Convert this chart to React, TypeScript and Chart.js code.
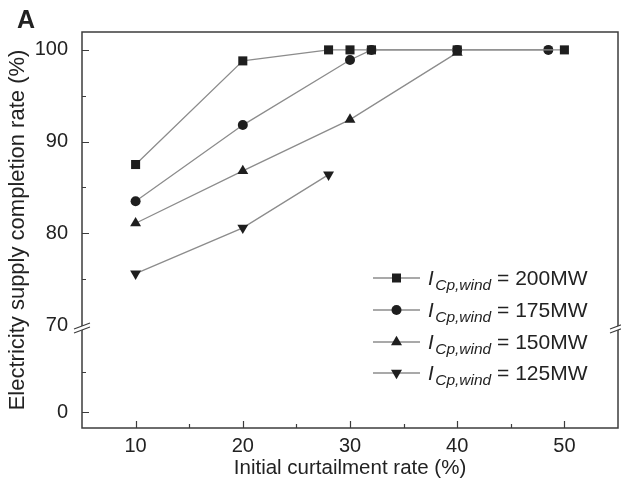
import React, { useEffect, useRef } from 'react';
import { Chart, registerables } from 'chart.js';

Chart.register(...registerables);

// ---- data ----
const xTickValues = [10, 20, 30, 40, 50];
const xMinorTicks = [15, 25, 35, 45];
const yTickReal = [0, 70, 80, 90, 100];
const yTickLabels = ['0', '70', '80', '90', '100'];
const yMinorReal = [5, 75, 85, 95];

const x200 = [10, 20, 28, 30, 32, 40, 50];
const y200 = [87.5, 98.8, 100, 100, 100, 100, 100];
const x175 = [10, 20, 30, 32, 40, 48.5];
const y175 = [83.5, 91.8, 98.9, 100, 100, 100];
const x150 = [10, 20, 30, 40];
const y150 = [81.1, 86.8, 92.4, 99.7];
const x125 = [10, 20, 28];
const y125 = [75.6, 80.6, 86.4];
const seriesLabels = ['200MW', '175MW', '150MW', '125MW'];

// broken y axis: lower segment (0..10) shown compressed below the break at 70
const BREAK_LOW = 10;
const BREAK_HIGH = 70;
const LOWER_BASE = 60.5;
const LOWER_SCALE = 0.8725;
const toAxis = (v: number) => (v >= BREAK_HIGH ? v : LOWER_BASE + v * LOWER_SCALE);

const FONT = '"Liberation Sans", Arial, Helvetica, sans-serif';
const LINE = '#8c8c8c';
const MARK = '#1e1e1e';
const AXIS = '#3c3c3c';
const TEXT = '#222222';

const pointStyles = ['rect', 'circle', 'triangle', 'triangle'];
const pointRotations = [0, 0, 0, 180];
const pointRadii = [6.4, 5, 6.3, 6.3];

const mk = (xs: number[], ys: number[]) => xs.map((x, i) => ({ x, y: toAxis(ys[i]) }));

function drawMarker(ctx: CanvasRenderingContext2D, style: number, cx: number, cy: number) {
  ctx.fillStyle = MARK;
  ctx.beginPath();
  if (style === 0) {
    ctx.rect(cx - 4.5, cy - 4.5, 9, 9);
  } else if (style === 1) {
    ctx.arc(cx, cy, 5, 0, Math.PI * 2);
  } else if (style === 2) {
    ctx.moveTo(cx, cy - 6.3);
    ctx.lineTo(cx + 5.5, cy + 3.2);
    ctx.lineTo(cx - 5.5, cy + 3.2);
    ctx.closePath();
  } else {
    ctx.moveTo(cx, cy + 6.3);
    ctx.lineTo(cx + 5.5, cy - 3.2);
    ctx.lineTo(cx - 5.5, cy - 3.2);
    ctx.closePath();
  }
  ctx.fill();
}

const decorPlugin = {
  id: 'decor',
  afterDraw(chart: any) {
    const { ctx, chartArea, scales } = chart;
    const { left, right, top, bottom } = chartArea;
    const xs = scales.x;
    const ys = scales.y;
    ctx.save();

    // frame
    ctx.strokeStyle = AXIS;
    ctx.lineWidth = 1.5;
    ctx.strokeRect(left, top, right - left, bottom - top);

    // x ticks (inward)
    ctx.lineWidth = 1.2;
    ctx.beginPath();
    xTickValues.forEach((v) => {
      const px = Math.round(xs.getPixelForValue(v)) + 0.5;
      ctx.moveTo(px, bottom);
      ctx.lineTo(px, bottom - 7);
    });
    xMinorTicks.forEach((v) => {
      const px = Math.round(xs.getPixelForValue(v)) + 0.5;
      ctx.moveTo(px, bottom);
      ctx.lineTo(px, bottom - 4);
    });
    // y ticks (inward)
    yTickReal.forEach((v) => {
      const py = Math.round(ys.getPixelForValue(toAxis(v))) + 0.5;
      ctx.moveTo(left, py);
      ctx.lineTo(left + 7, py);
    });
    yMinorReal.forEach((v) => {
      const py = Math.round(ys.getPixelForValue(toAxis(v))) + 0.5;
      ctx.moveTo(left, py);
      ctx.lineTo(left + 4, py);
    });
    ctx.stroke();

    // axis breaks
    const by = ys.getPixelForValue((toAxis(BREAK_LOW) + BREAK_HIGH) / 2);
    [left, right].forEach((ax) => {
      ctx.fillStyle = '#ffffff';
      ctx.beginPath();
      ctx.moveTo(ax - 8, by + 4.5);
      ctx.lineTo(ax + 8, by - 1.5);
      ctx.lineTo(ax + 8, by - 5.5);
      ctx.lineTo(ax - 8, by + 0.5);
      ctx.closePath();
      ctx.fill();
      ctx.strokeStyle = AXIS;
      ctx.lineWidth = 1.1;
      ctx.beginPath();
      ctx.moveTo(ax - 8, by + 4.5);
      ctx.lineTo(ax + 8, by - 1.5);
      ctx.moveTo(ax - 8, by + 0.5);
      ctx.lineTo(ax + 8, by - 5.5);
      ctx.stroke();
    });

    // panel letter
    ctx.fillStyle = TEXT;
    ctx.font = `bold 25px ${FONT}`;
    ctx.textBaseline = 'alphabetic';
    ctx.textAlign = 'left';
    ctx.fillText('A', 17, 28);

    // legend
    const lx0 = 373;
    const lx1 = 420;
    const rows = [278, 310, 342, 373];
    rows.forEach((ry, i) => {
      ctx.strokeStyle = LINE;
      ctx.lineWidth = 1.3;
      ctx.beginPath();
      ctx.moveTo(lx0, ry);
      ctx.lineTo(lx1, ry);
      ctx.stroke();
      drawMarker(ctx, i, (lx0 + lx1) / 2, ry);
      ctx.fillStyle = TEXT;
      ctx.textAlign = 'left';
      ctx.textBaseline = 'alphabetic';
      let tx = 428;
      ctx.font = `italic 20.5px ${FONT}`;
      ctx.fillText('I', tx, ry + 7);
      tx += ctx.measureText('I').width + 1.5;
      ctx.font = `italic 15.5px ${FONT}`;
      ctx.fillText('Cp,wind', tx, ry + 12);
      tx += ctx.measureText('Cp,wind').width;
      ctx.font = `21px ${FONT}`;
      ctx.fillText(' = ' + seriesLabels[i], tx, ry + 7);
    });

    ctx.restore();
  },
};

export default function App() {
  const ref = useRef<HTMLCanvasElement | null>(null);
  useEffect(() => {
    if (!ref.current) return;
    const sets = [mk(x200, y200), mk(x175, y175), mk(x150, y150), mk(x125, y125)];
    const chart = new Chart(ref.current, {
      type: 'line',
      data: {
        datasets: sets.map((d, i) => ({
          label: seriesLabels[i],
          data: d,
          borderColor: LINE,
          borderWidth: 1.3,
          backgroundColor: MARK,
          pointBackgroundColor: MARK,
          pointBorderColor: MARK,
          pointBorderWidth: 0,
          pointStyle: pointStyles[i] as any,
          pointRotation: pointRotations[i],
          pointRadius: pointRadii[i],
          tension: 0,
        })),
      },
      options: {
        responsive: false,
        animation: false,
        events: [],
        layout: { autoPadding: false, padding: { top: 32, right: 3, left: 0, bottom: 0 } },
        plugins: { legend: { display: false }, tooltip: { enabled: false } },
        scales: {
          x: {
            type: 'linear',
            min: 5,
            max: 55,
            grid: { display: false, drawTicks: false },
            border: { display: false },
            afterBuildTicks: (s: any) => {
              s.ticks = xTickValues.map((v) => ({ value: v }));
            },
            afterFit: (s: any) => {
              s.height = 57;
              s.paddingLeft = 0;
              s.paddingRight = 0;
            },
            ticks: {
              padding: 6,
              color: TEXT,
              font: { family: FONT, size: 20 },
              callback: (v: any) => String(v),
            },
            title: {
              display: true,
              text: 'Initial curtailment rate (%)',
              color: TEXT,
              font: { family: FONT, size: 20.5 },
              padding: { top: 0, bottom: 4 },
            },
          },
          y: {
            type: 'linear',
            min: 58.77,
            max: 101.95,
            grid: { display: false, drawTicks: false },
            border: { display: false },
            afterBuildTicks: (s: any) => {
              s.ticks = yTickReal.map((v) => ({ value: toAxis(v) }));
            },
            afterFit: (s: any) => {
              s.width = 82;
              s.paddingTop = 0;
              s.paddingBottom = 0;
            },
            ticks: {
              padding: 14,
              color: TEXT,
              font: { family: FONT, size: 20 },
              callback: (_v: any, idx: number) => yTickLabels[idx],
            },
            title: {
              display: true,
              text: 'Electricity supply completion rate (%)',
              color: TEXT,
              font: { family: FONT, size: 22 },
              padding: { top: 5, bottom: 0 },
            },
          },
        },
      },
      plugins: [decorPlugin],
    });
    return () => chart.destroy();
  }, []);
  return (
    <div style={{ position: 'fixed', left: 0, top: 0, width: 621, height: 485, background: '#fff' }}>
      <canvas ref={ref} width={621} height={485} style={{ display: 'block' }} />
    </div>
  );
}
